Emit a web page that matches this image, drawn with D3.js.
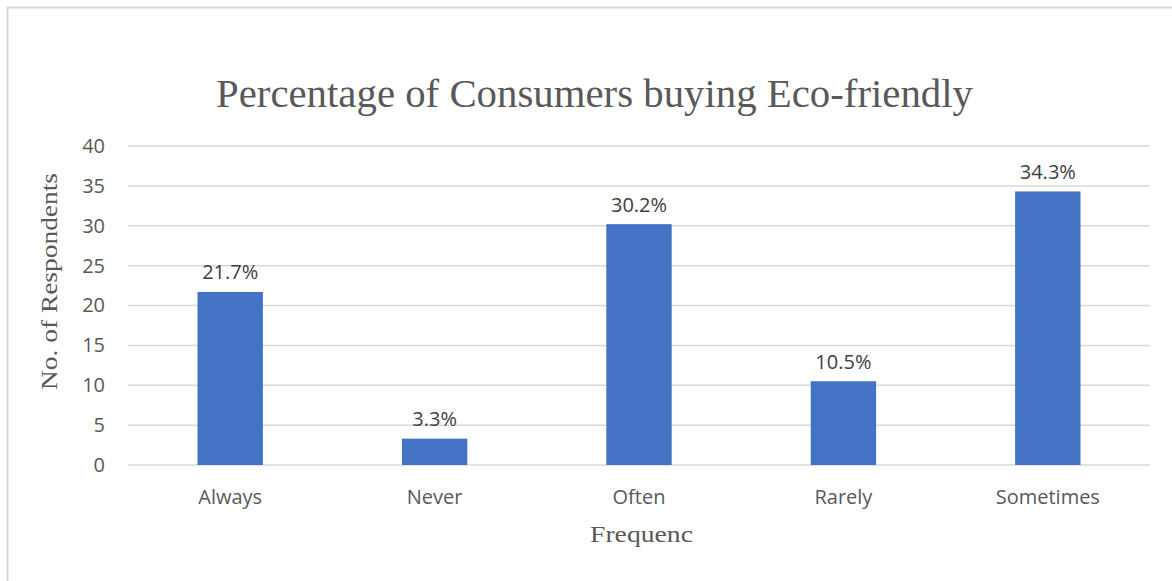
<!DOCTYPE html>
<html>
<head>
<meta charset="utf-8">
<script src="https://cdn.jsdelivr.net/npm/d3@7"></script>
<style>
    body { margin: 0; background: #fff; }
</style>
</head>
<body>
<script>
const categories = ["Always", "Never", "Often", "Rarely", "Sometimes"];
const values = [21.7, 3.3, 30.2, 10.5, 34.3];
const valueLabels = ["21.7%", "3.3%", "30.2%", "10.5%", "34.3%"];
const yTicks = [0, 5, 10, 15, 20, 25, 30, 35, 40];

const margin = { top: 146, bottom: 116, left: 128, right: 22 };
const width = 1172 - margin.left - margin.right;
const height = 581 - margin.top - margin.bottom;

const sans = "'Open Sans', sans-serif";
const serif = "'Liberation Serif', serif";

const svg = d3
    .select("body")
    .append("svg")
    .attr("width", 1172)
    .attr("height", 581);

// outer frame (only top and left edges are in view)
svg.append("rect")
    .attr("x", 7.5)
    .attr("y", 7.5)
    .attr("width", 1200)
    .attr("height", 600)
    .attr("fill", "none")
    .attr("stroke", "#d9d9d9")
    .attr("stroke-width", 2);

const g = svg.append("g")
    .attr("transform", `translate(${margin.left},${margin.top})`);

const xscale = d3.scaleBand()
    .domain(categories)
    .range([0, width])
    .paddingInner(0.68)
    .paddingOuter(0.34);

const yscale = d3.scaleLinear()
    .domain([0, 40])
    .range([height, 0]);

// gridlines
g.append("g")
    .attr("class", "grid")
    .selectAll("line")
    .data(yTicks)
    .join("line")
    .attr("x1", 0)
    .attr("x2", width)
    .attr("y1", d => yscale(d))
    .attr("y2", d => yscale(d))
    .attr("stroke", "#d9d9d9")
    .attr("stroke-width", 1.5);

// y axis labels
const yaxis = d3.axisLeft(yscale).tickValues(yTicks).tickSize(0).tickPadding(23);
const g_yaxis = g.append("g").attr("class", "y axis").call(yaxis);
g_yaxis.select(".domain").remove();
g_yaxis.selectAll("text")
    .attr("fill", "#595959")
    .style("font-family", sans)
    .style("font-size", "20px");

// x axis labels
const xaxis = d3.axisBottom(xscale).tickSize(0).tickPadding(25);
const g_xaxis = g.append("g")
    .attr("class", "x axis")
    .attr("transform", `translate(0,${height})`)
    .call(xaxis);
g_xaxis.select(".domain").remove();
g_xaxis.selectAll("text")
    .attr("fill", "#595959")
    .style("font-family", sans)
    .style("font-size", "20px");

// bars
g.selectAll("rect.bar")
    .data(values)
    .join("rect")
    .attr("class", "bar")
    .attr("x", (d, i) => xscale(categories[i]))
    .attr("y", d => yscale(d))
    .attr("width", xscale.bandwidth())
    .attr("height", d => height - yscale(d))
    .attr("fill", "#4472c4");

// value labels
g.selectAll("text.val")
    .data(values)
    .join("text")
    .attr("class", "val")
    .attr("x", (d, i) => xscale(categories[i]) + xscale.bandwidth() / 2)
    .attr("y", d => yscale(d) - 12.5)
    .attr("text-anchor", "middle")
    .attr("fill", "#404040")
    .style("font-family", sans)
    .style("font-size", "20px")
    .text((d, i) => valueLabels[i]);

// title
svg.append("text")
    .attr("x", 594.5)
    .attr("y", 107)
    .attr("text-anchor", "middle")
    .attr("fill", "#595959")
    .attr("textLength", 757)
    .attr("lengthAdjust", "spacingAndGlyphs")
    .style("font-family", serif)
    .style("font-size", "41px")
    .text("Percentage of Consumers buying Eco-friendly");

// axis titles
svg.append("text")
    .attr("transform", "translate(57,281.5) rotate(-90)")
    .attr("text-anchor", "middle")
    .attr("fill", "#595959")
    .attr("textLength", 217)
    .attr("lengthAdjust", "spacingAndGlyphs")
    .style("font-family", serif)
    .style("font-size", "23px")
    .text("No. of Respondents");

svg.append("text")
    .attr("x", 641.5)
    .attr("y", 542)
    .attr("text-anchor", "middle")
    .attr("fill", "#595959")
    .attr("textLength", 103)
    .attr("lengthAdjust", "spacingAndGlyphs")
    .style("font-family", serif)
    .style("font-size", "23px")
    .text("Frequenc");
</script>
</body>
</html>
